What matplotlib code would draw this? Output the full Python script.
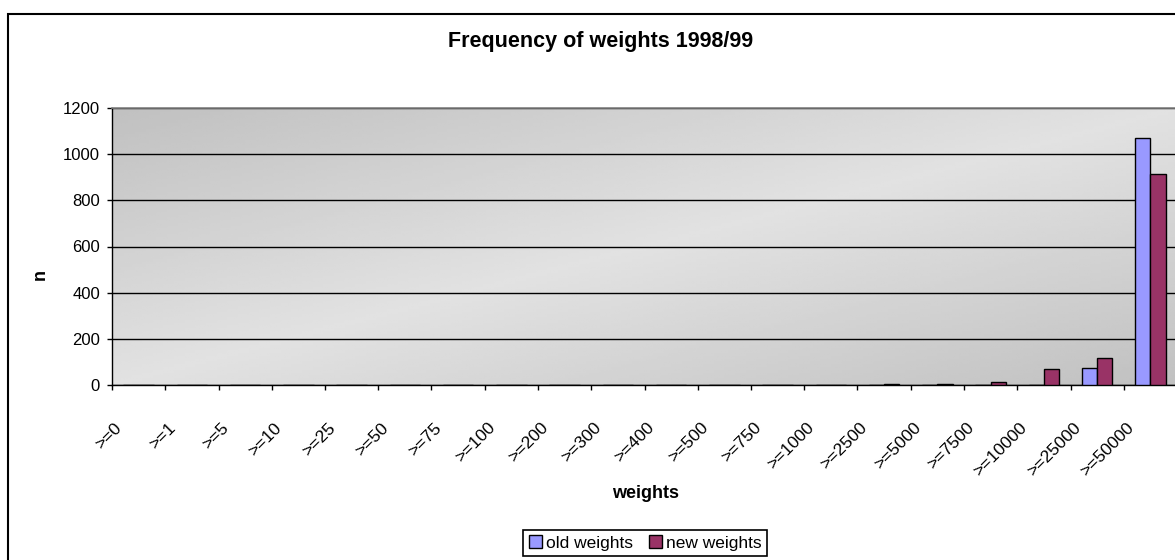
import numpy as np
import matplotlib.pyplot as plt
from matplotlib.patches import Rectangle
from matplotlib.transforms import ScaledTranslation

plt.rcParams['font.family'] = ['Liberation Sans', 'DejaVu Sans']

# data
categories = [">=0", ">=1", ">=5", ">=10", ">=25", ">=50", ">=75", ">=100",
              ">=200", ">=300", ">=400", ">=500", ">=750", ">=1000",
              ">=2500", ">=5000", ">=7500", ">=10000", ">=25000", ">=50000"]
old_weights = [0, 0, 0, 0, 0, 0, 0, 0, 0, 0,
               0, 0, 0, 0, 0, 0, 0, 0, 75, 1070]
new_weights = [0, 0, 0, 0, 0, 0, 0, 0, 0, 0,
               0, 0, 0, 0, 5, 6, 15, 68, 118, 915]
y_ticks = [0, 200, 400, 600, 800, 1000, 1200]

W, H = 1175, 560
fig = plt.figure(figsize=(W / 100, H / 100), dpi=100)
ax = fig.add_axes([112 / W, 1 - 385 / H, 1065 / W, 277 / H])

x = np.arange(len(categories))
ax.set_xlim(-0.5, len(categories) - 0.5)
ax.set_ylim(0, 1200)

# grey diagonal shading of the plot area
xx, yy = np.meshgrid(np.linspace(0, 1, 300), np.linspace(1, 0, 100))
shade = 0.885 - 0.13 * np.abs(xx - yy)
ax.imshow(shade, cmap='gray', vmin=0, vmax=1, aspect='auto', zorder=0,
          extent=(-0.5, len(categories) - 0.5, 0, 1200))

w = 0.2857
ax.bar(x - w / 2, old_weights, w, color='#9999FF', edgecolor='black',
       linewidth=1, zorder=3, label='old weights')
ax.bar(x + w / 2, new_weights, w, color='#993366', edgecolor='black',
       linewidth=1, zorder=3, label='new weights')

ax.set_axisbelow(True)
ax.yaxis.grid(True, color='black', linewidth=1)
ax.set_yticks(y_ticks)

ax.set_xticks(x)
ax.set_xticklabels(categories)
ax.set_xticks(np.arange(-0.5, len(categories), 1), minor=True)
ax.tick_params(axis='x', which='major', length=0, pad=29, labelsize=12.5)
ax.tick_params(axis='x', which='minor', length=3.6, width=1, direction='out')
ax.tick_params(axis='y', length=3.6, width=1, pad=5, labelsize=12)
plt.setp(ax.get_xticklabels(), rotation=45, ha='right', va='center',
         rotation_mode='anchor')
for lab in ax.get_xticklabels():
    lab.set_transform(lab.get_transform() +
                      ScaledTranslation(-0.19, 0, fig.dpi_scale_trans))

for side in ['left', 'bottom']:
    ax.spines[side].set_color('black')
    ax.spines[side].set_linewidth(1)
ax.spines['top'].set_color('#808080')
ax.spines['top'].set_linewidth(1.2)
ax.spines['right'].set_visible(False)

ax.set_xlabel('weights', fontsize=13, fontweight='bold')
ax.xaxis.set_label_coords(534 / 1065, -109 / 277)
ax.xaxis.label.set_va('center')
ax.set_ylabel('n', fontsize=13, fontweight='bold')
ax.yaxis.set_label_coords(-72 / 1065, 0.4)
ax.yaxis.label.set_va('center')

fig.text(601 / W, 1 - 41 / H, 'Frequency of weights 1998/99',
         ha='center', va='center', fontsize=15.5, fontweight='bold')

leg = fig.legend(loc='center', bbox_to_anchor=(645 / W, 1 - 543 / H), ncol=2,
                 frameon=True, fancybox=False, edgecolor='black', framealpha=1,
                 fontsize=12.5, handlelength=0.75, handleheight=0.75,
                 handletextpad=0.25, columnspacing=0.9, borderpad=0.3,
                 borderaxespad=0)
leg.get_frame().set_linewidth(1.2)

# outer chart border (cut off at right and bottom)
fig.add_artist(Rectangle((7.5 / W, -0.05), 1.2, 1 - 13.5 / H + 0.05,
                         transform=fig.transFigure, fill=False,
                         linewidth=1.5, edgecolor='black'))

fig.savefig('out.png', dpi=100)
